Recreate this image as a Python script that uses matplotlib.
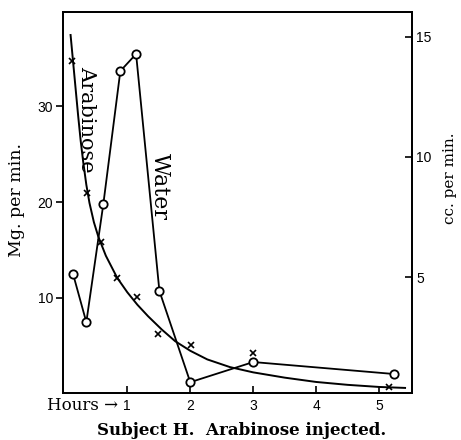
import matplotlib.pyplot as plt

# arabinose excretion, mg per min (left axis)
arab_hours = [0.13, 0.36, 0.59, 0.83, 1.15, 1.48, 2.01, 3.0, 5.16]
arab_mg = [34.7, 20.9, 15.8, 12.1, 10.1, 6.25, 5.1, 4.3, 0.7]

# hand drawn smooth curve through the arabinose points
curve_hours = [0.10, 0.14, 0.18, 0.22, 0.26, 0.30, 0.35, 0.40, 0.47, 0.54, 0.66, 0.84,
               1.0, 1.16, 1.33, 1.55, 1.76, 2.0, 2.27, 2.63, 3.0, 3.5, 4.0, 4.5, 5.0, 5.41]
curve_mg = [37.4, 34.6, 31.8, 29.0, 26.4, 24.2, 21.8, 19.9, 17.9, 16.4, 14.4, 12.1,
            10.6, 9.3, 8.1, 6.7, 5.5, 4.5, 3.6, 2.8, 2.25, 1.7, 1.25, 0.95, 0.73, 0.63]

# urine volume, cc per min (right axis)
water_hours = [0.14, 0.35, 0.62, 0.89, 1.14, 1.51, 2.0, 3.0, 5.24]
water_cc = [5.12, 3.12, 8.04, 13.58, 14.29, 4.42, 0.62, 1.46, 0.96]

fig = plt.figure(figsize=(4.61, 4.40), dpi=100)
ax = fig.add_axes([0.1367, 0.1068, 0.757, 0.866])
ax2 = ax.twinx()

ax.plot(curve_hours, curve_mg, 'k-', lw=1.4)
ax.plot(arab_hours, arab_mg, 'kx', ms=4, mew=1.2)
ax2.plot(water_hours, water_cc, 'k-', lw=1.3, marker='o', ms=6,
         mfc='white', mec='black', mew=1.3)

ax.set_xlim(-0.02, 5.52)
ax.set_ylim(0.1, 39.8)
ax2.set_ylim(0.17, 16.04)

ax.set_xticks([1, 2, 3, 4, 5])
ax.set_yticks([10, 20, 30])
ax2.set_yticks([5, 10, 15])

tickfont = 'Liberation Sans'
for lab in ax.get_xticklabels() + ax.get_yticklabels() + ax2.get_yticklabels():
    lab.set_fontfamily(tickfont)
    lab.set_fontsize(10)

ax.tick_params(axis='x', direction='in', length=5, width=1.2, pad=4)
ax.tick_params(axis='y', direction='out', length=5, width=1.2, pad=2)
ax2.tick_params(axis='y', direction='in', length=5, width=1.2, pad=3)
for a in (ax, ax2):
    for s in a.spines.values():
        s.set_linewidth(1.3)

serif = 'DejaVu Serif'
fig.text(17 / 461, 1 - 200 / 440, 'Mg. per min.', rotation=90, ha='center', va='center',
         fontfamily=serif, fontsize=12.5)
fig.text(450 / 461, 1 - 178 / 440, 'cc. per min.', rotation=90, ha='center', va='center',
         fontfamily=serif, fontsize=11)

ax.text(0.069, 0.717, 'Arabinose', transform=ax.transAxes, rotation=-90,
        ha='center', va='center', fontfamily=serif, fontsize=15)
ax.text(0.278, 0.541, 'Water', transform=ax.transAxes, rotation=-90,
        ha='center', va='center', fontfamily=serif, fontsize=16)

fig.text(118 / 461, 1 - 405 / 440, 'Hours \u2192', ha='right', va='center',
         fontfamily=serif, fontsize=12)
fig.text(0.525, 0.022, 'Subject H.  Arabinose injected.', ha='center', va='center',
         fontfamily=serif, fontsize=12, fontweight='bold')

fig.savefig('out.png', dpi=100)
